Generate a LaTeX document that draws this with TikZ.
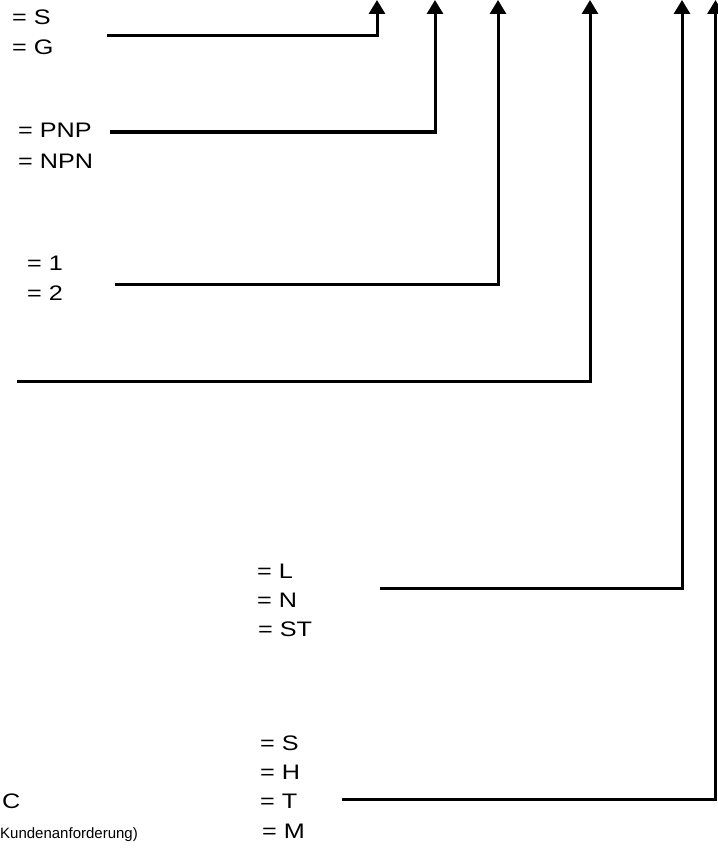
\documentclass[tikz,border=0pt]{standalone}
\usepackage{fontspec}
\setmainfont{Liberation Sans}[FakeStretch=1.2]
\newfontfamily\plainsans{Liberation Sans}
\usetikzlibrary{arrows.meta}
\begin{document}
\begin{tikzpicture}[x=1pt,y=-1pt,
  lbl/.style={anchor=base west,inner sep=0pt,font=\fontsize{21}{21}\selectfont},
  small/.style={anchor=base west,inner sep=0pt,font=\plainsans\fontsize{15}{15}\selectfont},
  conn/.style={line width=3pt,line join=miter,-{Triangle[width=16pt,length=14pt]}}]
\useasboundingbox (0,0) rectangle (717,848);
% labels
\node[lbl] (s1) at (12,25) {= S};
\node[lbl] (g1) at (12,55) {= G};
\node[lbl] (pnp) at (18,138) {= PNP};
\node[lbl] (npn) at (18,168) {= NPN};
\node[lbl] (one) at (27,270) {= 1};
\node[lbl] (two) at (27,300) {= 2};
\node[lbl] (l) at (257,578) {= L};
\node[lbl] (n) at (257,607) {= N};
\node[lbl] (st) at (258,636) {= ST};
\node[lbl] (s2) at (260,750) {= S};
\node[lbl] (h) at (260,779) {= H};
\node[lbl] (t) at (260,808) {= T};
\node[lbl] (m) at (262,838) {= M};
\node[lbl] (c) at (2,808) {C};
\node[small] (k) at (0,838) {Kundenanforderung)};
% connector coordinates
\coordinate (a1) at (107,36);  \coordinate (b1) at (377,36);  \coordinate (e1) at (377,0);
\coordinate (a2) at (110,132); \coordinate (b2) at (435,132); \coordinate (e2) at (435,0);
\coordinate (a3) at (115,284); \coordinate (b3) at (498,284); \coordinate (e3) at (498,0);
\coordinate (a4) at (17,381);  \coordinate (b4) at (590,381); \coordinate (e4) at (590,0);
\coordinate (a5) at (380,588); \coordinate (b5) at (682,588); \coordinate (e5) at (682,0);
\coordinate (a6) at (342,799); \coordinate (b6) at (715.5,799); \coordinate (e6) at (715.5,0);
\draw[conn] (a1) -- (b1) -- (e1);
\draw[conn] (a2) -- (b2) -- (e2);
\draw[conn] (a3) -- (b3) -- (e3);
\draw[conn] (a4) -- (b4) -- (e4);
\draw[conn] (a5) -- (b5) -- (e5);
\draw[conn] (a6) -- (b6) -- (e6);
\end{tikzpicture}
\end{document}
